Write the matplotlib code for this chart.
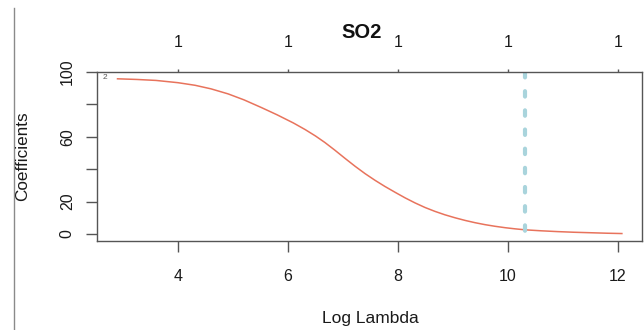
import matplotlib
matplotlib.use("Agg")
import matplotlib.pyplot as plt
from matplotlib.lines import Line2D

# ---- data ----
log_lambda = [2.90, 3.25, 3.60, 4.00, 4.31, 4.60, 4.91, 5.20, 5.52, 5.80,
              6.10, 6.31, 6.50, 6.67, 6.85, 7.04, 7.22, 7.40, 7.58, 7.76,
              7.95, 8.13, 8.31, 8.49, 8.67, 8.85, 9.04, 9.22, 9.40, 9.58,
              9.76, 9.95, 10.13, 10.31, 10.60, 10.90, 11.20, 11.50, 11.80, 12.07]
coef_so2 = [95.8, 95.4, 94.8, 93.4, 91.8, 89.6, 86.5, 82.8, 78.0, 73.6,
            68.5, 64.5, 60.5, 56.5, 51.8, 46.6, 41.8, 37.3, 33.2, 29.4,
            25.7, 22.3, 19.2, 16.4, 14.0, 11.9, 10.0, 8.4, 7.0, 5.8,
            4.8, 3.9, 3.2, 2.6, 2.0, 1.5, 1.1, 0.8, 0.5, 0.3]
x_ticks = [4, 6, 8, 10, 12]
x_tick_labels = ["4", "6", "8", "10", "12"]
top_tick_labels = ["1", "1", "1", "1", "1"]
y_ticks = [0, 20, 40, 60, 80, 100]
y_tick_labels = ["0", "20", "", "60", "", "100"]
lambda_min_log = 10.31
var_label = "2"
title = "SO2"

plt.rcParams['font.family'] = ['Liberation Sans', 'DejaVu Sans']

W, H = 644, 330
fig = plt.figure(figsize=(W / 100, H / 100), dpi=100)
L, R, T, B = 97, 642, 72, 241
ax = fig.add_axes([L / W, 1 - B / H, (R - L) / W, (B - T) / H])

Y0, Y1 = -4.3, 99.7
ax.plot(log_lambda, coef_so2, color='#e8735c', lw=1.1)
ax.plot([lambda_min_log, lambda_min_log], [Y1, Y0], color='#a9d4dc', lw=3,
        linestyle=(0, (1.3, 3.3)), dash_capstyle='round')
ax.text(2.62, 96.6, var_label, fontsize=6, color='#555555', ha='left', va='center')

ax.set_xlim(2.527, 12.436)
ax.set_ylim(Y0, Y1)

for s in ax.spines.values():
    s.set_color('#555555')
    s.set_linewidth(1.0)

ax.set_xticks(x_ticks, x_tick_labels)
ax.set_yticks(y_ticks, y_tick_labels)
ax.tick_params(axis='x', length=8, width=1, color='#555555', labelsize=11.5, pad=12,
               labelcolor='#1a1a1a')
ax.tick_params(axis='y', length=8, width=1, color='#555555', labelsize=11.5, pad=8,
               labelcolor='#1a1a1a')
for lab in ax.get_yticklabels():
    lab.set_rotation(90)
    lab.set_va('center')

top = ax.secondary_xaxis('top')
top.set_xticks(x_ticks, top_tick_labels)
top.tick_params(length=2, width=1, color='#555555', labelsize=11.5, pad=14,
                labelcolor='#1a1a1a')
top.spines['top'].set_visible(False)

fig.text(362 / W, 1 - 32 / H, title, fontsize=14.5, fontweight='bold',
         ha='center', va='center', color='#111111')
fig.text(370 / W, 1 - 318 / H, "Log Lambda", fontsize=12.5, ha='center', va='center',
         color='#1a1a1a')
fig.text(23 / W, 1 - 156 / H, "Coefficients", fontsize=12.3, rotation=90,
         ha='center', va='center', color='#1a1a1a')

fig.add_artist(Line2D([14 / W, 14 / W], [0, 1 - 8 / H], transform=fig.transFigure,
                      color='#8a8a8a', lw=1.0))

fig.savefig("out.png", dpi=100)
